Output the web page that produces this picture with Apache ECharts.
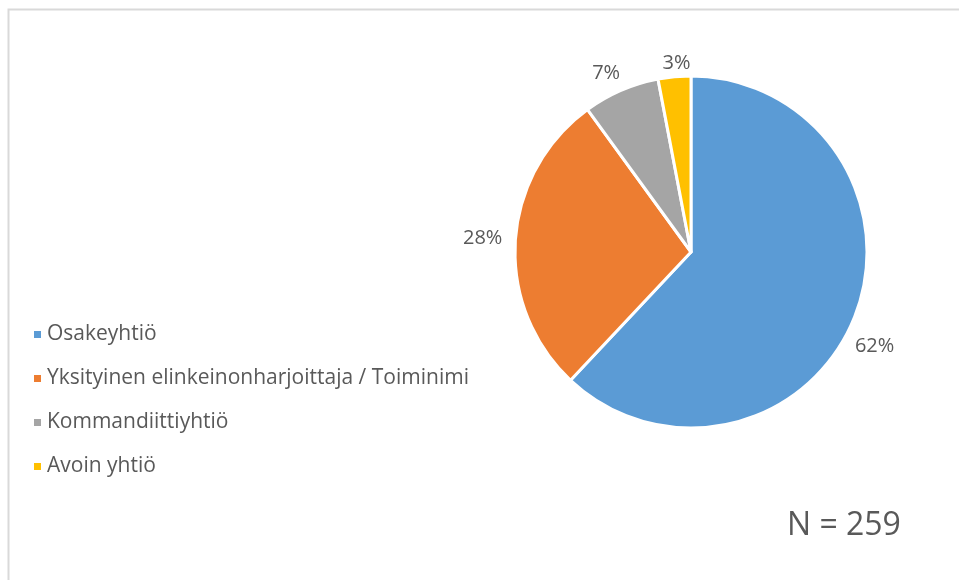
<!DOCTYPE html>
<html>
	<head>
		<meta charset="utf-8" />
		<title></title>
		<script src="https://cdn.jsdelivr.net/npm/echarts@6/dist/echarts.min.js"></script>
		<style>
			body{ margin:0; background:#fff; }
			#dvpie{ width:959px; height:580px; }
		</style>
	</head>
	<body>
		<div id="dvpie"></div>
		<script>
			// data
			var categories = ['Osakeyhtiö', 'Yksityinen elinkeinonharjoittaja / Toiminimi', 'Kommandiittiyhtiö', 'Avoin yhtiö'];
			var shares = [62, 28, 7, 3];
			var colors = ['#5B9BD5', '#ED7D31', '#A5A5A5', '#FFC000'];
			var sampleNote = 'N = 259';

			// small nudges so the labels sit where Excel put them
			var labelNudge = [[-14, 26], [2, -2], [8, -8], [22, -4]];

			var txt = '#595959';
			var font = 'Open Sans';

			var pieData = [];
			for (var i = 0; i < categories.length; i++) {
				pieData.push({
					name: categories[i],
					value: shares[i],
					itemStyle: { color: colors[i] },
					label: { offset: labelNudge[i] }
				});
			}

			var chart1 = echarts.init(document.getElementById('dvpie'));
			var option1 = {
				backgroundColor: '#fff',
				animation: false,
				legend: {
					orient: 'vertical',
					left: 27,
					top: 319,
					icon: 'rect',
					itemWidth: 9,
					itemHeight: 9,
					itemGap: 23,
					data: categories,
					textStyle: { color: txt, fontSize: 21, fontFamily: font }
				},
				graphic: [
					{
						type: 'rect',
						shape: { x: 8.5, y: 9.5, width: 1000, height: 1000 },
						style: { fill: 'none', stroke: '#d9d9d9', lineWidth: 2 }
					},
					{
						type: 'text',
						left: 787,
						top: 510,
						style: { text: sampleNote, fill: txt, fontSize: 32, fontFamily: font }
					}
				],
				series: [
					{
						type: 'pie',
						center: [691, 252],
						radius: 176,
						startAngle: 90,
						clockwise: true,
						avoidLabelOverlap: false,
						itemStyle: { borderColor: '#fff', borderWidth: 3 },
						label: {
							show: true,
							position: 'outside',
							formatter: '{c}%',
							color: txt,
							fontSize: 20,
							fontFamily: font
						},
						labelLine: { show: false, length: 10, length2: 0 },
						emphasis: { disabled: true },
						data: pieData
					}
				]
			};
			chart1.setOption(option1);
		</script>
	</body>
</html>
